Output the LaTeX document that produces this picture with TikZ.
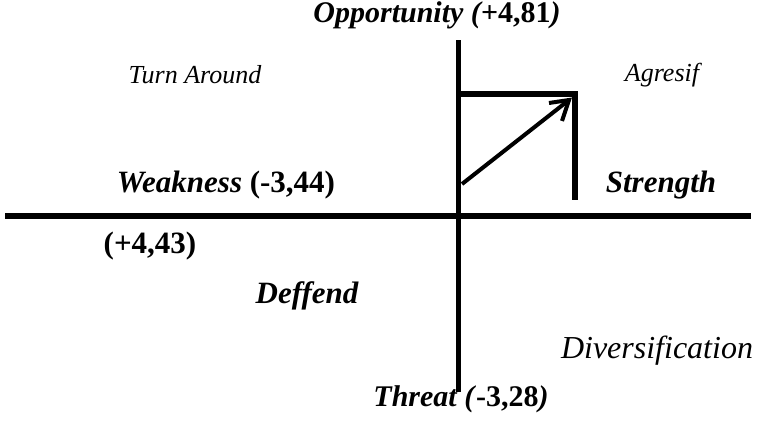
\documentclass[tikz,border=0pt]{standalone}
\usepackage{fontspec}
\setmainfont{Liberation Serif}
\tikzset{
  axis/.style={line width=6pt, line cap=butt},
  bar/.style={line width=6pt},
  arr/.style={line width=4pt, line join=miter},
  lab/.style={inner sep=0pt, font=\fontsize{31}{34}\selectfont\bfseries\itshape},
  quad/.style={inner sep=0pt, font=\fontsize{26}{29}\selectfont\itshape},
}
\begin{document}
\begin{tikzpicture}[x=1pt,y=-1pt]
\useasboundingbox (0,0) rectangle (760,423);
% axes
\coordinate (hL) at (5,216);
\coordinate (hR) at (751,216);
\coordinate (vT) at (458,40);
\coordinate (vB) at (458,392);
\draw[axis] (hL) -- (hR);
\draw[line width=5pt] (vT) -- (vB);
% position box
\coordinate (bL) at (458,94);
\coordinate (bR) at (578,94);
\coordinate (rT) at (575,91);
\coordinate (rB) at (575,200);
\draw[bar] (bL) -- (bR);
\draw[bar] (rT) -- (rB);
% arrow
\coordinate (aS) at (462,184);
\coordinate (aE) at (569,100);
\coordinate (aW1) at (549,103);
\coordinate (aW2) at (562,121);
\draw[arr] (aS) -- (aE);
\draw[arr] (aW1) -- (aE) -- (aW2);
% labels
\node[lab, font=\fontsize{30}{33}\selectfont\bfseries\itshape, anchor=base] (opp) at (437,22) {Opportunity (+\textup{4,81})};
\node[quad] (turn) at (195,75) {Turn Around};
\node[quad] (agr) at (662,75) {Agresif};
\node[lab] (weak) at (226,185) {Weakness \textup{(-3,44)}};
\node[lab, font=\fontsize{31}{34}\selectfont\bfseries] (wval) at (150,246) {(+4,43)};
\node[lab] (str) at (661,185) {Strength};
\node[lab] (def) at (307,296) {Deffend};
\node[quad, font=\fontsize{32}{35}\selectfont\itshape] (div) at (657,351) {Diversification};
\node[lab, font=\fontsize{30}{33}\selectfont\bfseries\itshape] (thr) at (461,399) {Threat (\textup{-3,28})};
\end{tikzpicture}
\end{document}
